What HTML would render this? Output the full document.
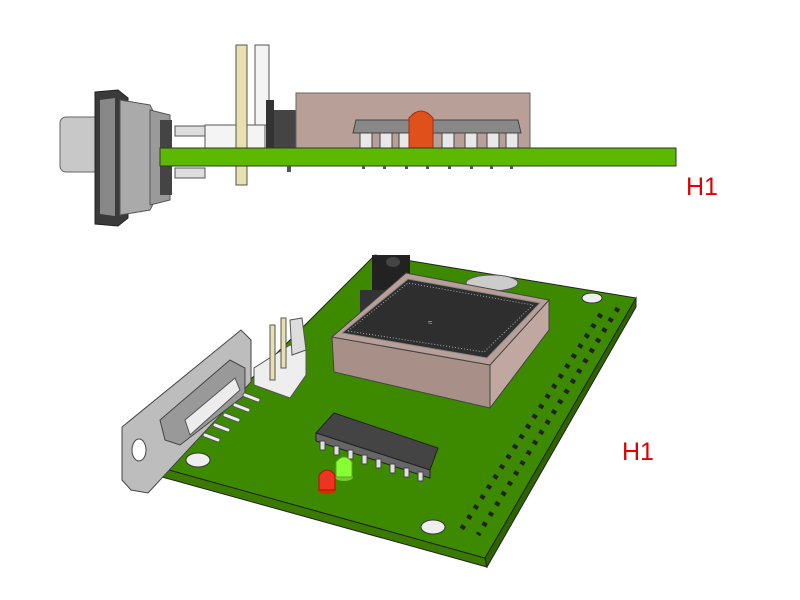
<!DOCTYPE html>
<html><head><meta charset="utf-8"><style>
html,body{margin:0;padding:0;background:#fff;width:800px;height:600px;overflow:hidden}
svg{display:block}
</style></head><body>
<svg width="800" height="600" viewBox="0 0 800 600" xmlns="http://www.w3.org/2000/svg">
<!-- ===== Top side view ===== -->
<rect x="60" y="117" width="40" height="55" rx="6" fill="#c8c8c8" stroke="#666"/>
<path d="M95 92 L118 90 L128 98 L128 218 L118 226 L95 224 Z" fill="#3a3a3a" stroke="#222"/>
<path d="M100 100 L115 98 L115 216 L100 214 Z" fill="#888"/>
<path d="M120 100 L150 105 L155 115 L155 200 L150 210 L120 215 Z" fill="#aaa" stroke="#555"/>
<path d="M150 110 L170 115 L170 200 L150 205 Z" fill="#9a9a9a" stroke="#555"/>
<rect x="160" y="120" width="12" height="75" fill="#444"/>
<rect x="175" y="126" width="30" height="10" fill="#ddd" stroke="#555"/>
<rect x="175" y="168" width="30" height="10" fill="#ddd" stroke="#555"/>
<rect x="205" y="125" width="60" height="23" fill="#f4f4f4" stroke="#555"/>
<rect x="236" y="45" width="11" height="140" fill="#e8e0b0" stroke="#555"/>
<rect x="255" y="45" width="14" height="80" fill="#f4f4f4" stroke="#555"/>
<rect x="266" y="100" width="8" height="48" fill="#333"/>
<rect x="274" y="110" width="22" height="38" fill="#444"/>
<rect x="296" y="93" width="234" height="56" fill="#b8a098" stroke="#666"/>
<path d="M356 120 L518 120 L521 133 L353 133 Z" fill="#888" stroke="#444"/>
<g fill="#e8e8e8" stroke="#444">
<rect x="360" y="133" width="12" height="15"/><rect x="380" y="133" width="12" height="15"/>
<rect x="399" y="133" width="12" height="15"/><rect x="442" y="133" width="12" height="15"/>
<rect x="465" y="133" width="12" height="15"/><rect x="487" y="133" width="12" height="15"/>
<rect x="506" y="133" width="12" height="15"/>
</g>
<path d="M409 148 L409 118 Q421 104 433 118 L433 148 Z" fill="#e0501a" stroke="#a03010"/>
<rect x="160" y="148" width="516" height="18" fill="#5cb800" stroke="#333"/>
<g fill="#555"><rect x="287" y="166" width="4" height="6"/><rect x="362" y="166" width="3" height="3"/><rect x="383" y="166" width="3" height="3"/><rect x="405" y="166" width="3" height="3"/><rect x="426" y="166" width="3" height="3"/><rect x="448" y="166" width="3" height="3"/><rect x="470" y="166" width="3" height="3"/><rect x="490" y="166" width="3" height="3"/><rect x="510" y="166" width="3" height="3"/></g>
<text x="686" y="195" font-family="Liberation Sans, sans-serif" font-size="25" fill="#e00000">H1</text>

<!-- ===== Bottom perspective view ===== -->
<path d="M162 468 L485 558 L487 567 L162 477 Z" fill="#3a7a00" stroke="#222"/>
<path d="M485 558 L636 298 L636 307 L487 567 Z" fill="#2e6400" stroke="#222"/>
<path d="M162 468 L375 255 L636 298 L485 558 Z" fill="#3d8a00" stroke="#222"/>
<ellipse cx="198" cy="460" rx="12" ry="7" fill="#eee" stroke="#333"/>
<ellipse cx="433" cy="527" rx="12" ry="7" fill="#eee" stroke="#333"/>
<ellipse cx="592" cy="298" rx="10" ry="5" fill="#eee" stroke="#333"/>
<line x1="618" y1="308" x2="478" y2="535" stroke="#222" stroke-width="5" stroke-dasharray="4 8"/>
<line x1="601" y1="314" x2="461" y2="530" stroke="#222" stroke-width="5" stroke-dasharray="4 8"/>
<ellipse cx="492" cy="283" rx="26" ry="8" fill="#ccc" stroke="#555"/>
<rect x="372" y="255" width="38" height="38" fill="#222"/>
<ellipse cx="393" cy="262" rx="7" ry="5" fill="#444"/>
<rect x="360" y="290" width="30" height="30" fill="#333"/>
<path d="M332 337 L334 372 L490 408 L490 365 Z" fill="#a89088" stroke="#444"/>
<path d="M490 365 L490 408 L549 330 L549 300 Z" fill="#c0a8a0" stroke="#444"/>
<path d="M332 337 L406 273 L549 300 L490 365 Z" fill="#b8a098" stroke="#444"/>
<path d="M342 333 L408 279 L540 303 L487 358 Z" fill="#2e2e2e" stroke="#888"/>
<path d="M348 331 L408 283 L533 305 L484 352 Z" fill="none" stroke="#aaa" stroke-width="1" stroke-dasharray="1 2"/>
<text x="428" y="325" font-size="8" fill="#bbb" font-family="Liberation Sans, sans-serif">≈</text>
<path d="M254 368 L290 345 L306 350 L306 375 L290 398 L254 385 Z" fill="#eee" stroke="#555"/>
<rect x="270" y="325" width="5" height="55" fill="#e8e0b0" stroke="#555"/>
<rect x="281" y="318" width="5" height="50" fill="#e8e0b0" stroke="#555"/>
<path d="M290 320 L302 318 L306 350 L292 355 Z" fill="#ddd" stroke="#555"/>
<path d="M122 427 L241 330 L251 340 L251 382 L148 493 L131 490 L122 480 Z" fill="#bdbdbd" stroke="#444"/>
<path d="M160 420 L230 360 L245 368 L245 395 L180 445 L165 440 Z" fill="#999" stroke="#444"/>
<path d="M185 420 L235 378 L240 390 L190 435 Z" fill="#ececec" stroke="#555"/>
<ellipse cx="139" cy="450" rx="7" ry="11" fill="#fff" stroke="#444"/>
<g stroke="#555" stroke-width="5" stroke-linecap="round">
<line x1="245" y1="395" x2="258" y2="400"/><line x1="235" y1="405" x2="248" y2="410"/>
<line x1="225" y1="415" x2="238" y2="420"/><line x1="215" y1="425" x2="228" y2="430"/>
<line x1="205" y1="435" x2="218" y2="440"/>
</g>
<g stroke="#eee" stroke-width="3" stroke-linecap="round">
<line x1="245" y1="395" x2="258" y2="400"/><line x1="235" y1="405" x2="248" y2="410"/>
<line x1="225" y1="415" x2="238" y2="420"/><line x1="215" y1="425" x2="228" y2="430"/>
<line x1="205" y1="435" x2="218" y2="440"/>
</g>
<path d="M316 433 L334 413 L438 448 L430 470 Z" fill="#444" stroke="#222"/>
<path d="M316 433 L430 470 L430 478 L316 441 Z" fill="#666" stroke="#222"/>
<g fill="#e0e0e0" stroke="#444">
<rect x="320" y="441" width="5" height="9"/><rect x="334" y="446" width="5" height="9"/>
<rect x="348" y="450" width="5" height="9"/><rect x="362" y="455" width="5" height="9"/>
<rect x="376" y="459" width="5" height="9"/><rect x="390" y="464" width="5" height="9"/>
<rect x="404" y="468" width="5" height="9"/><rect x="418" y="472" width="5" height="9"/>
</g>
<ellipse cx="344" cy="477" rx="9" ry="4" fill="#7c3"/>
<path d="M336 477 L336 462 Q344 452 352 462 L352 477 Z" fill="#8f3" stroke="#5a2"/>
<ellipse cx="327" cy="490" rx="9" ry="4" fill="#c30"/>
<path d="M319 490 L319 475 Q327 465 335 475 L335 490 Z" fill="#e32" stroke="#a10"/>
<text x="622" y="460" font-family="Liberation Sans, sans-serif" font-size="25" fill="#e00000">H1</text>
</svg>
</body></html>
